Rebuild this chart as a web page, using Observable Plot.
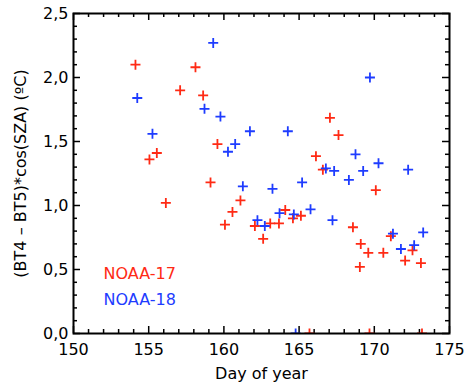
<!DOCTYPE html>
<html>
<head>
<meta charset="utf-8">
<script src="https://cdn.jsdelivr.net/npm/d3@7"></script>
<script src="https://cdn.jsdelivr.net/npm/@observablehq/plot@0.6"></script>
<style>
  html, body { margin: 0; padding: 0; background: #fff; }
</style>
</head>
<body>
<div id="chart"></div>
<script>
// Split-window difference (BT4 - BT5) scaled by cos(SZA), by day of year
const noaa17Day = [154.12, 155.05, 155.54, 156.14, 157.09, 158.11, 158.62, 159.11, 159.57, 160.07,
                   160.57, 161.10, 162.06, 162.61, 163.08, 163.66, 164.08, 164.59, 165.12, 165.69,
                   166.12, 166.58, 167.05, 167.62, 168.58, 169.04, 169.10, 169.60, 169.68, 170.10,
                   170.60, 171.10, 172.05, 172.54, 173.10, 173.17];
const noaa17Val = [2.10, 1.36, 1.41, 1.02, 1.90, 2.08, 1.86, 1.18, 1.48, 0.85,
                   0.95, 1.04, 0.84, 0.74, 0.86, 0.86, 0.965, 0.90, 0.92, 0.0,
                   1.385, 1.28, 1.685, 1.55, 0.83, 0.52, 0.70, 0.63, 0.0, 1.12,
                   0.63, 0.76, 0.57, 0.65, 0.55, 0.0];
const noaa18Day = [154.24, 155.25, 158.71, 159.29, 159.77, 160.27, 160.75, 161.26, 161.73, 162.23,
                   162.72, 163.23, 163.70, 164.25, 164.65, 164.77, 165.20, 165.76, 166.78, 167.22,
                   167.33, 168.31, 168.75, 169.26, 169.71, 170.28, 171.24, 171.77, 172.25, 172.65,
                   173.25];
const noaa18Val = [1.84, 1.56, 1.755, 2.27, 1.695, 1.42, 1.48, 1.15, 1.58, 0.885,
                   0.84, 1.13, 0.94, 1.58, 0.93, 0.0, 1.18, 0.97, 1.29, 0.885,
                   1.27, 1.20, 1.40, 1.27, 2.00, 1.33, 0.78, 0.66, 1.28, 0.69,
                   0.79];

const seriesNames = ["NOAA-17", "NOAA-18"];
const seriesColors = ["#ff2a14", "#1e3cff"];

const xTicks = [150, 155, 160, 165, 170, 175];
const yTicks = [0, 0.5, 1.0, 1.5, 2.0, 2.5];
const xLabel = "Day of year";
const yLabel = "(BT4 \u2013 BT5)*cos(SZA) (\u00baC)";

const points = [
  ...noaa17Day.map((d, i) => ({day: d, value: noaa17Val[i], sat: seriesNames[0]})),
  ...noaa18Day.map((d, i) => ({day: d, value: noaa18Val[i], sat: seriesNames[1]}))
];

// line-drawn "+" marker
const crossSymbol = {
  draw(ctx, size) {
    const r = Math.sqrt(size / Math.PI);
    ctx.moveTo(-r, 0); ctx.lineTo(r, 0);
    ctx.moveTo(0, -r); ctx.lineTo(0, r);
  }
};

const W = 465, H = 385;
const mL = 73, mR = 16, mT = 13, mB = 52;
const fw = W - mL - mR, fh = H - mT - mB;
const major = 7, minor = 4;

const xMinor = d3.range(150, 175.001, 1).filter(v => !xTicks.includes(v));
const yMinor = d3.range(0, 26).map(i => i / 10).filter(v => !yTicks.some(t => Math.abs(t - v) < 1e-9));

const tickStyle = {stroke: "black", strokeWidth: 1.5};
const fmt = d => d3.format(".1f")(d).replace(".", ",");

const chart = Plot.plot({
  width: W,
  height: H,
  marginLeft: mL,
  marginRight: mR,
  marginTop: mT,
  marginBottom: mB,
  style: {fontFamily: "DejaVu Sans", fontSize: "16px", background: "white", color: "black", overflow: "visible"},
  x: {domain: [150, 175], ticks: xTicks},
  y: {domain: [0, 2.5], ticks: yTicks},
  color: {domain: seriesNames, range: seriesColors},
  marks: [
    Plot.axisX(xTicks, {tickSize: 0, tickPadding: 10, label: null, fontSize: 16}),
    Plot.axisY(yTicks, {tickSize: 0, tickPadding: 5, label: null, tickFormat: fmt, fontSize: 16}),
    // inward ticks on all four sides
    Plot.tickX(xTicks, {x: d => d, insetTop: fh - major, ...tickStyle}),
    Plot.tickX(xTicks, {x: d => d, insetBottom: fh - major, ...tickStyle}),
    Plot.tickX(xMinor, {x: d => d, insetTop: fh - minor, ...tickStyle}),
    Plot.tickX(xMinor, {x: d => d, insetBottom: fh - minor, ...tickStyle}),
    Plot.tickY(yTicks, {y: d => d, insetRight: fw - major, ...tickStyle}),
    Plot.tickY(yTicks, {y: d => d, insetLeft: fw - major, ...tickStyle}),
    Plot.tickY(yMinor, {y: d => d, insetRight: fw - minor, ...tickStyle}),
    Plot.tickY(yMinor, {y: d => d, insetLeft: fw - minor, ...tickStyle}),
    Plot.dot(points, {
      x: "day", y: "value", stroke: "sat", symbol: crossSymbol, r: 5,
      strokeWidth: 1.8, fill: "none", clip: true
    }),
    Plot.frame({stroke: "black", strokeWidth: 2}),
    // series labels inside the plot
    Plot.text([seriesNames[0]], {frameAnchor: "bottom-left", text: d => d, fill: seriesColors[0],
      textAnchor: "start", dx: 30, dy: -55, fontSize: 16}),
    Plot.text([seriesNames[1]], {frameAnchor: "bottom-left", text: d => d, fill: seriesColors[1],
      textAnchor: "start", dx: 30, dy: -29, fontSize: 16}),
    // axis titles
    Plot.text([xLabel], {frameAnchor: "bottom", text: d => d, dy: 45, fontSize: 16}),
    Plot.text([yLabel], {frameAnchor: "left", text: d => d, textAnchor: "middle", rotate: -90,
      dx: -53, fontSize: 16, letterSpacing: "0.4px"})
  ]
});

document.getElementById("chart").appendChild(chart);
</script>
</body>
</html>
